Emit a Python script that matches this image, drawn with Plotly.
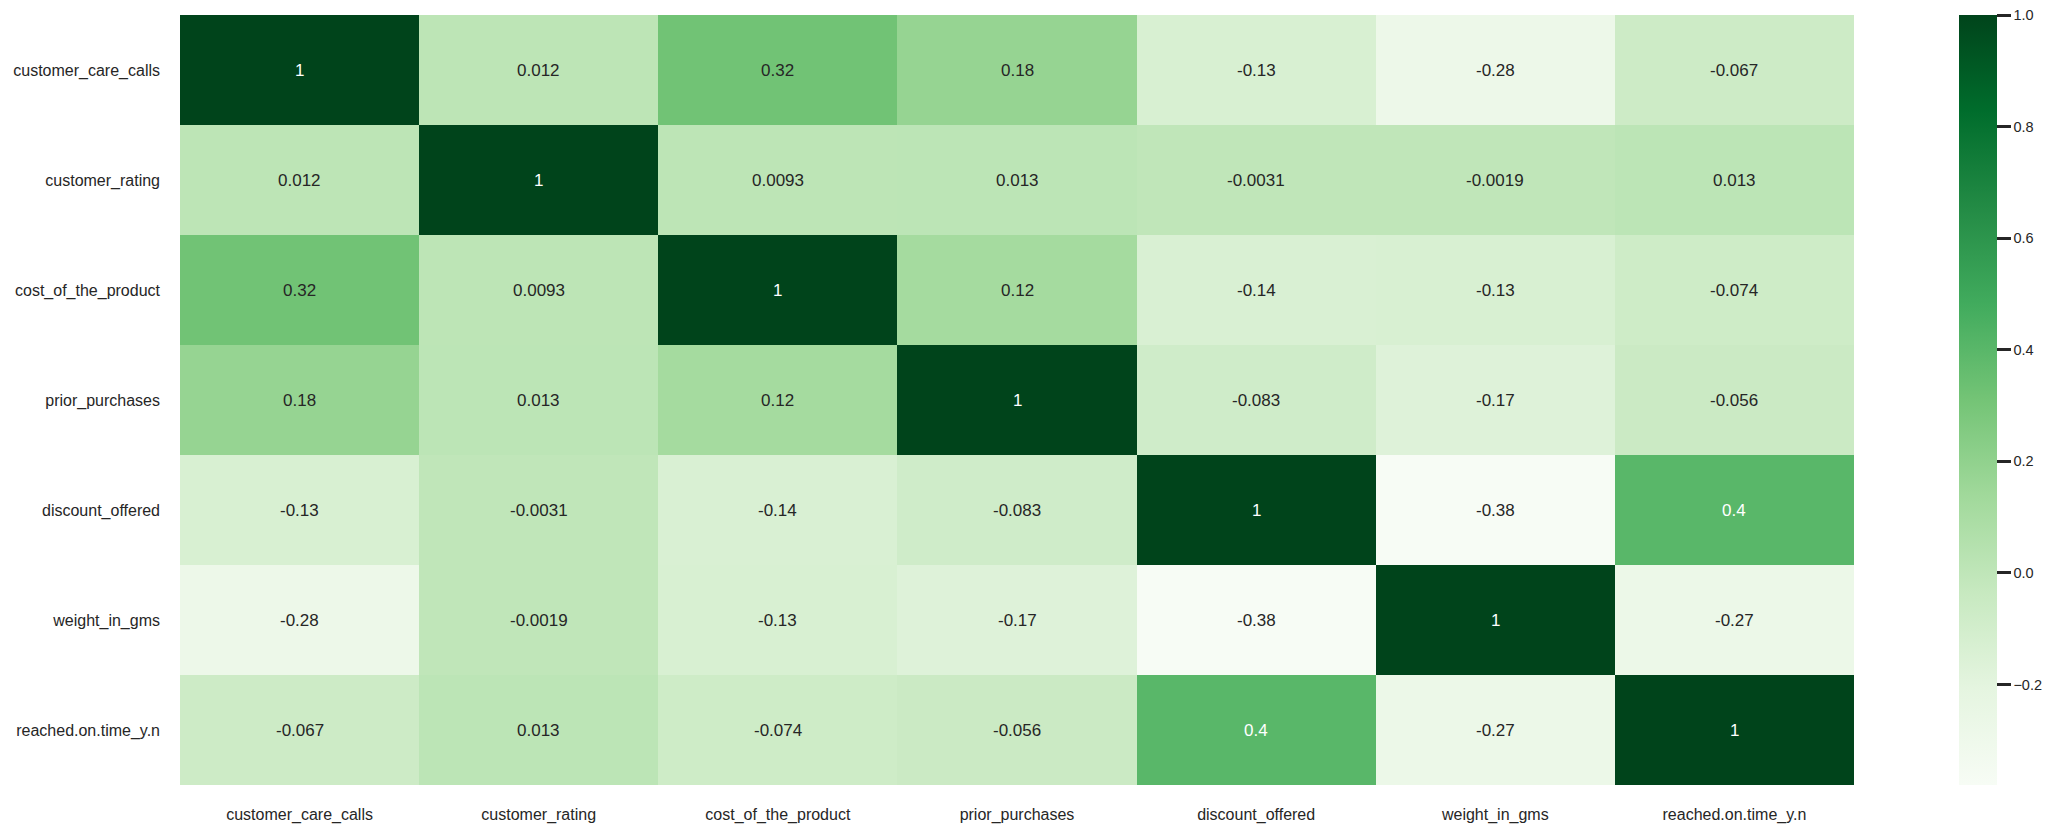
import plotly.graph_objects as go
import plotly.colors as pc

labels = ["customer_care_calls", "customer_rating", "cost_of_the_product",
          "prior_purchases", "discount_offered", "weight_in_gms", "reached.on.time_y.n"]

row_customer_care_calls = [1, 0.012, 0.32, 0.18, -0.13, -0.28, -0.067]
row_customer_rating = [0.012, 1, 0.0093, 0.013, -0.0031, -0.0019, 0.013]
row_cost_of_the_product = [0.32, 0.0093, 1, 0.12, -0.14, -0.13, -0.074]
row_prior_purchases = [0.18, 0.013, 0.12, 1, -0.083, -0.17, -0.056]
row_discount_offered = [-0.13, -0.0031, -0.14, -0.083, 1, -0.38, 0.4]
row_weight_in_gms = [-0.28, -0.0019, -0.13, -0.17, -0.38, 1, -0.27]
row_reached_on_time = [-0.067, 0.013, -0.074, -0.056, 0.4, -0.27, 1]

z = [row_customer_care_calls, row_customer_rating, row_cost_of_the_product,
     row_prior_purchases, row_discount_offered, row_weight_in_gms, row_reached_on_time]

cbar_ticks = [1.0, 0.8, 0.6, 0.4, 0.2, 0.0, -0.2]
cbar_text = ["1.0", "0.8", "0.6", "0.4", "0.2", "0.0", "\u22120.2"]

greens = pc.sequential.Greens
n = len(greens)
colorscale = [[i / (n - 1), c] for i, c in enumerate(greens)]

zmin = min(min(r) for r in z)
zmax = max(max(r) for r in z)

FONT = "Liberation Sans, Arial, sans-serif"

fig = go.Figure(go.Heatmap(
    z=z, x=labels, y=labels,
    colorscale=colorscale, zmin=zmin, zmax=zmax + 1e-9,
    xgap=0, ygap=0,
    colorbar=dict(
        x=1.0627, xanchor="left", xpad=0, y=0.5, yanchor="middle", ypad=0,
        len=1.0, lenmode="fraction", thickness=38, outlinewidth=0,
        tickvals=cbar_ticks, ticktext=cbar_text,
        ticks="outside", ticklen=14, tickwidth=2.5, tickcolor="#262626",
        ticklabeloverflow="allow",
        tickfont=dict(family=FONT, size=14.5, color="#262626"),
    ),
    hoverinfo="skip",
))

def fmt(v):
    return "%.2g" % v

annotations = []
for i, row in enumerate(z):
    for j, v in enumerate(row):
        annotations.append(dict(
            x=labels[j], y=labels[i], text=fmt(v), showarrow=False,
            font=dict(family=FONT, size=17, color="white" if v > 0.35 else "#262626"),
        ))

fig.update_layout(
    width=2045, height=817,
    margin=dict(l=172, r=199, t=7, b=40, autoexpand=False),
    paper_bgcolor="white", plot_bgcolor="white",
    annotations=annotations,
    font=dict(family=FONT, size=16, color="#262626"),
)
fig.update_xaxes(showgrid=False, zeroline=False, ticks="", ticklabelstandoff=18,
                 automargin=False,
                 tickfont=dict(family=FONT, size=16, color="#262626"))
fig.update_yaxes(showgrid=False, zeroline=False, ticks="", autorange="reversed",
                 ticklabelstandoff=19, automargin=False,
                 tickfont=dict(family=FONT, size=16, color="#262626"))

fig.write_html("out.html")
